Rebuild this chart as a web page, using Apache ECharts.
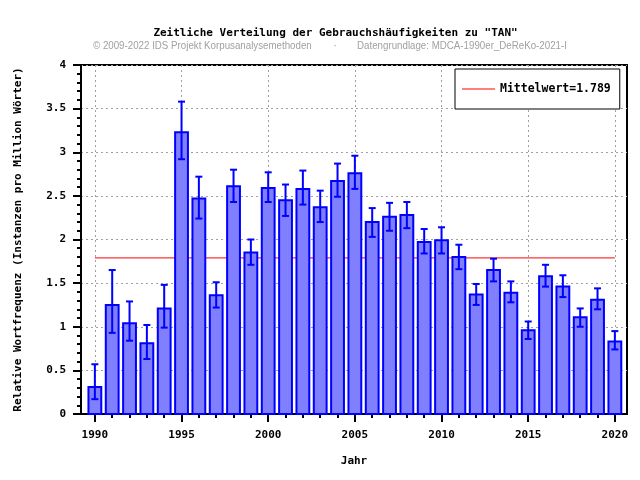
<!DOCTYPE html>
<html>
<head>
<meta charset="utf-8">
<script src="https://cdn.jsdelivr.net/npm/echarts@6/dist/echarts.min.js"></script>
<style>html,body{margin:0;padding:0;background:#fff}#c{width:640px;height:480px}</style>
</head>
<body>
<div id="c"></div>
<script>
const years = [1990,1991,1992,1993,1994,1995,1996,1997,1998,1999,2000,2001,2002,2003,2004,2005,2006,2007,2008,2009,2010,2011,2012,2013,2014,2015,2016,2017,2018,2019,2020];
const values = [0.31,1.25,1.04,0.81,1.21,3.23,2.47,1.36,2.61,1.85,2.59,2.45,2.58,2.37,2.67,2.76,2.20,2.26,2.28,1.97,1.99,1.80,1.37,1.65,1.39,0.96,1.58,1.46,1.11,1.31,0.83];
const lower = [0.17,0.93,0.84,0.63,0.99,2.92,2.24,1.22,2.43,1.71,2.43,2.27,2.40,2.20,2.49,2.58,2.03,2.10,2.13,1.84,1.84,1.66,1.25,1.52,1.28,0.86,1.46,1.34,1.00,1.20,0.74];
const upper = [0.57,1.65,1.29,1.02,1.48,3.58,2.72,1.51,2.80,2.00,2.77,2.63,2.79,2.56,2.87,2.96,2.36,2.42,2.43,2.12,2.14,1.94,1.49,1.78,1.52,1.06,1.71,1.59,1.21,1.44,0.95];
const meanValue = 1.789;
const meanLabel = 'Mittelwert=1.789';
const majorYears = [1990,1995,2000,2005,2010,2015,2020];
const titleText = 'Zeitliche Verteilung der Gebrauchshäufigkeiten zu "TAN"';
const subLeft = '© 2009-2022 IDS Projekt Korpusanalysemethoden';
const subRight = 'Datengrundlage: MDCA-1990er_DeReKo-2021-I';
const xName = 'Jahr';
const yName = 'Relative Wortfrequenz (Instanzen pro Million Wörter)';

const MONO = '"DejaVu Sans Mono", monospace';
const SANS = '"Liberation Sans", Arial, sans-serif';
const chart = echarts.init(document.getElementById('c'), null, {renderer: 'canvas'});

const barData = years.map((y, i) => [y, values[i]]);
const errData = years.map((y, i) => [y, lower[i], upper[i]]);
const HALF = 0.37;

const option = {
  animation: false,
  backgroundColor: '#fff',
  grid: {left: 81, right: 13, top: 65, bottom: 66, show: true, borderColor: '#000', borderWidth: 2, backgroundColor: 'transparent'},
  legend: {
    left: 455, top: 69, padding: [14, 9, 14, 7],
    borderColor: '#000', borderWidth: 1, backgroundColor: '#fff',
    itemWidth: 33, itemHeight: 1, icon: 'rect',
    textStyle: {fontFamily: MONO, fontWeight: 'bold', fontSize: 11.5, color: '#000'},
    data: [meanLabel]
  },
  graphic: [
    {type: 'text', x: 335.5, y: 33, style: {text: titleText, fontFamily: MONO, fontWeight: 'bold', fontSize: 11, fill: '#000', textAlign: 'center', textVerticalAlign: 'middle'}},
    {type: 'text', x: 93, y: 46, scaleX: 0.885, style: {text: subLeft, fontFamily: SANS, fontSize: 11, fill: '#a0a0a0', textAlign: 'left', textVerticalAlign: 'middle'}},
    {type: 'text', x: 335, y: 46, style: {text: '·', fontFamily: SANS, fontSize: 11, fill: '#a0a0a0', textAlign: 'center', textVerticalAlign: 'middle'}},
    {type: 'text', x: 357, y: 46, scaleX: 0.885, style: {text: subRight, fontFamily: SANS, fontSize: 11, fill: '#a0a0a0', textAlign: 'left', textVerticalAlign: 'middle'}}
  ],
  xAxis: [
    {
      type: 'value', min: 1989.2, max: 2020.7, position: 'bottom',
      name: xName, nameLocation: 'middle', nameGap: 42,
      nameTextStyle: {fontFamily: MONO, fontWeight: 'bold', fontSize: 11, color: '#000'},
      axisLine: {show: true, onZero: false, lineStyle: {color: '#000', width: 2}},
      axisTick: {show: true, customValues: majorYears, length: 8, lineStyle: {color: '#000', width: 2}},
      axisLabel: {show: true, customValues: majorYears, margin: 16, formatter: v => String(v), fontFamily: MONO, fontWeight: 'bold', fontSize: 11, color: '#000'},
      splitLine: {show: true, lineStyle: {color: '#a0a0a0', width: 1, type: [2, 3]}}
    },
    {
      type: 'value', min: 1989.2, max: 2020.7, position: 'bottom', gridIndex: 0,
      axisLine: {show: false},
      axisTick: {show: true, customValues: years, length: 4, lineStyle: {color: '#000', width: 2}},
      axisLabel: {show: false},
      splitLine: {show: false}
    }
  ],
  yAxis: {
    type: 'value', min: 0, max: 4, interval: 0.5,
    name: yName, nameLocation: 'middle', nameGap: 57, nameRotate: 90,
    nameTextStyle: {fontFamily: MONO, fontWeight: 'bold', fontSize: 11, color: '#000'},
    axisLine: {show: true, lineStyle: {color: '#000', width: 2}},
    axisTick: {show: true, length: 8, lineStyle: {color: '#000', width: 2}},
    minorTick: {show: true, splitNumber: 5, length: 4, lineStyle: {color: '#000', width: 2}},
    axisLabel: {margin: 15, fontFamily: MONO, fontWeight: 'bold', fontSize: 11, color: '#000'},
    splitLine: {show: true, lineStyle: {color: '#a0a0a0', width: 1, type: [2, 3]}}
  },
  series: [
    {
      name: meanLabel, type: 'line', xAxisIndex: 0, z: 1,
      data: [[years[0], meanValue], [years[years.length - 1], meanValue]],
      symbol: 'none', showSymbol: false, silent: true,
      lineStyle: {color: '#ff0000', width: 1}, itemStyle: {color: '#ff0000'}
    },
    {
      name: 'bars', type: 'custom', xAxisIndex: 0, z: 2,
      data: barData,
      encode: {x: 0, y: 1},
      renderItem: function (params, api) {
        const x = api.value(0), v = api.value(1);
        const p0 = api.coord([x - HALF, 0]);
        const p1 = api.coord([x + HALF, v]);
        return {type: 'rect', shape: {x: p0[0], y: p1[1], width: p1[0] - p0[0], height: p0[1] - p1[1]},
          style: {fill: '#8080ff', stroke: '#0000ff', lineWidth: 2}};
      }
    },
    {
      name: 'err', type: 'custom', xAxisIndex: 0, z: 3,
      data: errData,
      encode: {x: 0, y: [1, 2]},
      renderItem: function (params, api) {
        const x = api.value(0);
        const lo = api.coord([x, api.value(1)]);
        const hi = api.coord([x, api.value(2)]);
        const st = {stroke: '#0000ff', lineWidth: 2};
        return {type: 'group', children: [
          {type: 'line', shape: {x1: lo[0], y1: lo[1], x2: hi[0], y2: hi[1]}, style: st},
          {type: 'line', shape: {x1: lo[0] - 3.5, y1: lo[1], x2: lo[0] + 3.5, y2: lo[1]}, style: st},
          {type: 'line', shape: {x1: hi[0] - 3.5, y1: hi[1], x2: hi[0] + 3.5, y2: hi[1]}, style: st}
        ]};
      }
    }
  ]
};
chart.setOption(option);
</script>
</body>
</html>
